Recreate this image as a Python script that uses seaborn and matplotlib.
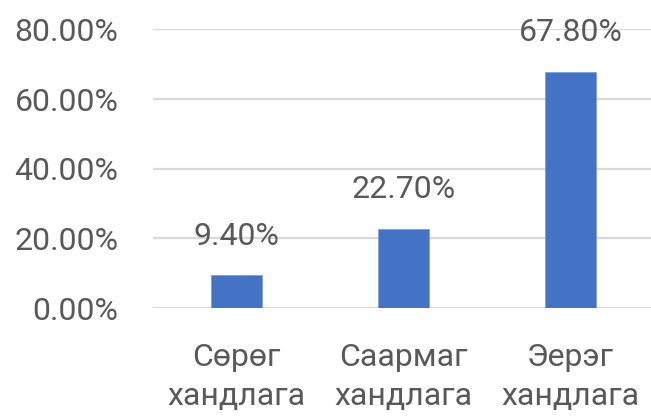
import matplotlib
matplotlib.use("Agg")
import matplotlib.pyplot as plt
import seaborn as sns
from matplotlib.ticker import PercentFormatter

# Data
categories = ["Сөрөг\nхандлага", "Саармаг\nхандлага", "Эерэг\nхандлага"]
shares = [0.094, 0.227, 0.678]
y_ticks = [0.0, 0.2, 0.4, 0.6, 0.8]

sns.set_style("white")
plt.rcParams['font.family'] = ['Roboto', 'DejaVu Sans']

text_col = "#595959"

fig = plt.figure(figsize=(6.51, 4.16), dpi=100)
ax = fig.add_axes([153 / 651, 108 / 416, 501 / 651, 278.5 / 416])

sns.barplot(x=categories, y=shares, color="#4472C4", saturation=1,
            width=0.31, edgecolor="#7FA0DA", linewidth=0.6, ax=ax, zorder=3)

ax.set_ylim(0, 0.8)
ax.set_yticks(y_ticks)
ax.yaxis.set_major_formatter(PercentFormatter(1.0, decimals=2))
ax.grid(axis='y', color="#D9D9D9", linewidth=1.6, zorder=0)
ax.set_axisbelow(True)
for s in ax.spines.values():
    s.set_visible(False)

ax.tick_params(axis='y', length=0, pad=25, labelsize=23, labelcolor=text_col)
ax.tick_params(axis='x', length=0, pad=25, labelsize=23, labelcolor=text_col)
for lbl in ax.get_xticklabels():
    lbl.set_linespacing(1.45)

# value labels
for i, v in enumerate(shares):
    ax.annotate(f"{v * 100:.2f}%", (i, v), xytext=(0, 22), textcoords="offset points",
                ha="center", va="baseline", fontsize=23, color=text_col,
                annotation_clip=False)

fig.savefig("out.png", dpi=100)
